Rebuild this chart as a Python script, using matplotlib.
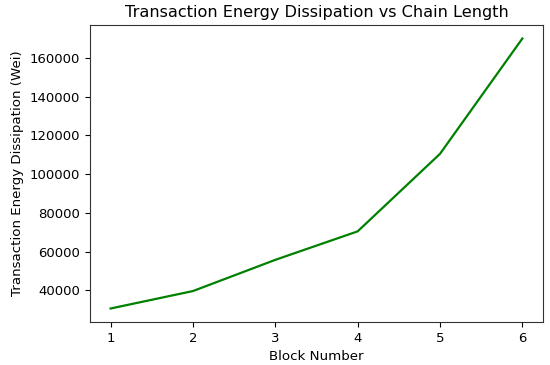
import matplotlib
matplotlib.use("Agg")
import matplotlib.pyplot as plt

blocks = [1, 2, 3, 4, 5, 6]
energy = [30700, 39700, 55800, 70500, 110500, 170000]

fig = plt.figure(figsize=(5.5, 3.65), dpi=100)
ax = fig.add_axes([0.1636, 0.1178, 0.8236, 0.8137])
ax.plot(blocks, energy, color="green", linewidth=1.6)
ax.set_title("Transaction Energy Dissipation vs Chain Length", fontsize=11.6)
ax.set_xlabel("Block Number", fontsize=9.6)
ax.set_ylabel("Transaction Energy Dissipation (Wei)", fontsize=9.6)
ax.tick_params(labelsize=9.5)
for s in ax.spines.values():
    s.set_color("#333333")
fig.savefig("out.png", dpi=100)
